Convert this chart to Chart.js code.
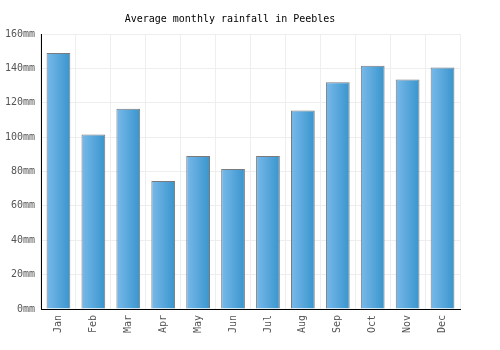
<!DOCTYPE html>
<html>
<head>
<meta charset="utf-8">
<script src="https://cdn.jsdelivr.net/npm/chart.js@4"></script>
<style>
  html, body { margin: 0; padding: 0; background: #fff; }
  #wrap { width: 500px; height: 350px; }
</style>
</head>
<body>
<div id="wrap"><canvas id="chart" width="500" height="350"></canvas></div>
<script>
// rainfall
const months = ['Jan', 'Feb', 'Mar', 'Apr', 'May', 'Jun', 'Jul', 'Aug', 'Sep', 'Oct', 'Nov', 'Dec'];
const rainfall = [149, 101.5, 116.5, 74.5, 89, 81.5, 89, 115.5, 132, 141.5, 133.5, 140.5];
const yTicks = [0, 20, 40, 60, 80, 100, 120, 140, 160];

const FONT = "'DejaVu Sans Mono', monospace";
const BAR_PCT = 0.68;

// left-to-right blue gradient for each bar
const barFill = (ctx) => {
  const chart = ctx.chart;
  const x = chart.scales.x;
  if (!x || !chart.chartArea || ctx.dataIndex === undefined) return '#4fa3db';
  const mid = x.getPixelForValue(ctx.dataIndex);
  const half = (x.width / months.length) * BAR_PCT / 2;
  const g = chart.ctx.createLinearGradient(mid - half, 0, mid + half, 0);
  g.addColorStop(0, '#79b9ea');
  g.addColorStop(1, '#3895cd');
  return g;
};

new Chart(document.getElementById('chart'), {
  type: 'bar',
  data: {
    labels: months,
    datasets: [{
      data: rainfall,
      backgroundColor: barFill,
      borderColor: '#7a7a7a',
      borderWidth: 1,
      borderSkipped: 'bottom',
      barPercentage: BAR_PCT,
      categoryPercentage: 1
    }]
  },
  options: {
    responsive: false,
    animation: false,
    layout: { padding: { left: 0, right: 40, top: 0, bottom: 0 } },
    plugins: {
      legend: { display: false },
      tooltip: { enabled: false },
      title: {
        display: true,
        text: 'Average monthly rainfall in Peebles',
        color: '#000',
        font: { family: FONT, size: 10, weight: 'normal' },
        padding: { top: 13, bottom: 9 }
      }
    },
    scales: {
      x: {
        grid: { color: '#eeeeee', offset: true, drawTicks: false },
        border: { color: '#000', width: 1 },
        ticks: {
          color: '#555',
          font: { family: FONT, size: 10 },
          maxRotation: 90,
          minRotation: 90,
          padding: 6
        },
        afterFit: (s) => { s.height = 41; }
      },
      y: {
        min: 0,
        max: 160,
        grid: { color: '#eeeeee', drawTicks: false },
        border: { color: '#000', width: 1 },
        afterBuildTicks: (s) => { s.ticks = yTicks.map(v => ({ value: v })); },
        ticks: {
          color: '#555',
          font: { family: FONT, size: 10 },
          padding: 6,
          callback: (v) => v + 'mm'
        },
        afterFit: (s) => { s.width = 41; }
      }
    }
  }
});
</script>
</body>
</html>
